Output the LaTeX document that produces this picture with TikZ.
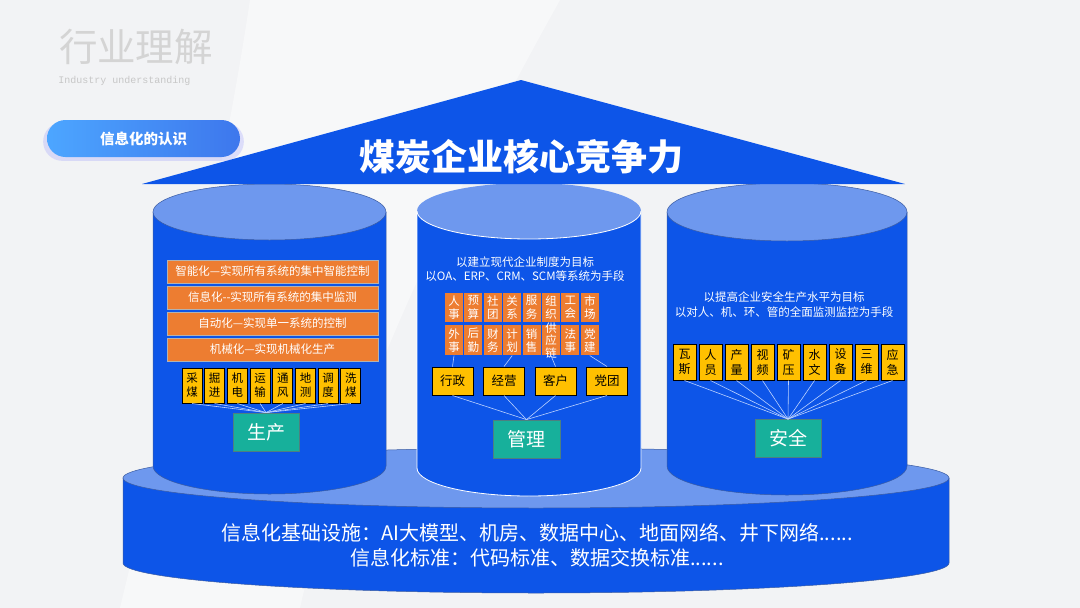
\documentclass[tikz,border=0pt]{standalone}
\usepackage{fontspec}
\setmainfont{Noto Sans CJK SC}
\newfontfamily\monofont{Liberation Mono}
\usetikzlibrary{positioning,shadows}

\definecolor{coalblue}{HTML}{0D55E8}
\definecolor{toplight}{HTML}{6E98EE}
\definecolor{rimblue}{HTML}{3A5BA2}
\definecolor{barorange}{HTML}{ED7D31}
\definecolor{tagyellow}{HTML}{FFC000}
\definecolor{tealbox}{HTML}{17B09B}
\definecolor{linkblue}{HTML}{BCD2FF}
\definecolor{pagebg}{HTML}{F2F3F5}

\begin{document}
\begin{tikzpicture}[x=1pt, y=-1pt,
  bar/.style={rectangle, fill=barorange, draw=gray!60, line width=0.5pt, minimum width=211pt, minimum height=23pt, inner sep=0pt, text=white, font=\fontsize{11.5}{12}\selectfont},
  tag/.style={rectangle, fill=tagyellow, draw=black, line width=1pt, inner sep=0pt, align=center},
  prodtag/.style={tag, minimum width=20pt, minimum height=35pt, font=\fontsize{11.5}{14}\selectfont},
  mgmttag/.style={tag, minimum width=41pt, minimum height=28pt, font=\fontsize{12.5}{13}\selectfont},
  safetag/.style={tag, minimum width=23pt, minimum height=36pt, font=\fontsize{12}{15}\selectfont},
  cell/.style={rectangle, fill=barorange, minimum width=18pt, inner sep=0pt, align=center, text=white, font=\fontsize{11.5}{13.5}\selectfont},
  group/.style={rectangle, fill=tealbox, draw=gray!60!teal, line width=0.8pt, minimum width=66pt, minimum height=38pt, text=white, font=\fontsize{19}{20}\selectfont},
  goal/.style={align=center, text=white, font=\fontsize{11.5}{14}\selectfont},
  link/.style={draw=linkblue, line width=0.6pt},
  pill/.style={rectangle, rounded corners=18.5pt, minimum width=193pt, minimum height=37pt, left color=blue!50!cyan!70!white, right color=coalblue!80!white, text=white, font=\bfseries\fontsize{14.5}{15}\selectfont, drop shadow={shadow xshift=0pt, shadow yshift=-3pt, shadow scale=1.04, opacity=0.18, fill=blue!60!white}}
]
\useasboundingbox (0,0) rectangle (1080,608);

% page
\fill[pagebg] (0,0) rectangle (1080,608);
\fill[white, opacity=0.45] (250,0) -- (560,0) .. controls (420,250) and (330,470) .. (300,608) -- (120,608) .. controls (170,400) and (220,200) .. cycle;

\node[text=black!17, font=\fontsize{38.5}{38.5}\selectfont] (pagetitle) at (136,47) {行业理解};
\node[text=black!22, font=\monofont\fontsize{10}{10}\selectfont] (pagesub) at (124.5,81) {Industry understanding};
\node[pill] (pill) at (143.5,138.5) {信息化的认识};

% base
\filldraw[fill=coalblue, draw=rimblue, line width=0.5pt] (123,478) -- (123,563) arc[start angle=180, end angle=360, x radius=413pt, y radius=30pt] -- (949,478) -- cycle;
\filldraw[fill=toplight, draw=rimblue, line width=0.5pt] (536,478) ellipse[x radius=413pt, y radius=30pt];

% three pillars
\filldraw[fill=coalblue, draw=rimblue, line width=0.5pt] (153,212) -- (153,466) arc[start angle=180, end angle=360, x radius=116.5pt, y radius=28pt] -- (386,212) -- cycle;
\filldraw[fill=toplight, draw=rimblue, line width=0.5pt] (269.5,212) ellipse[x radius=116.5pt, y radius=28pt];

\filldraw[fill=coalblue, draw=white, line width=0.8pt] (417,211) -- (417,468) arc[start angle=180, end angle=360, x radius=112pt, y radius=28pt] -- (641,211) -- cycle;
\fill[toplight] (529,211) ellipse[x radius=112pt, y radius=28pt];
\draw[white, line width=0.8pt] (417,211) arc[start angle=180, end angle=360, x radius=112pt, y radius=28pt];

\filldraw[fill=coalblue, draw=rimblue, line width=0.5pt] (667,212) -- (667,466) arc[start angle=180, end angle=360, x radius=120pt, y radius=29pt] -- (907,212) -- cycle;
\filldraw[fill=toplight, draw=rimblue, line width=0.5pt] (787,212) ellipse[x radius=120pt, y radius=29pt];

% roof
\fill[coalblue] (142,184) -- (521,80) -- (905,184) -- cycle;
\node[text=white, font=\bfseries\fontsize{36}{36}\selectfont] (rooftitle) at (521,157) {煤炭企业核心竞争力};

% production
\node[bar] (lv1) at (272.5,271.5) {智能化—实现所有系统的集中智能控制};
\node[bar, below=2.5pt of lv1] (lv2) {信息化{-}{-}实现所有系统的集中监测};
\node[bar, below=2.5pt of lv2] (lv3) {自动化—实现单一系统的控制};
\node[bar, below=2.5pt of lv3] (lv4) {机械化—实现机械化生产};

\node[prodtag] (p1) at (192,385.5) {采\\煤};
\node[prodtag, right=1.7pt of p1] (p2) {掘\\进};
\node[prodtag, right=1.7pt of p2] (p3) {机\\电};
\node[prodtag, right=1.7pt of p3] (p4) {运\\输};
\node[prodtag, right=1.7pt of p4] (p5) {通\\风};
\node[prodtag, right=1.7pt of p5] (p6) {地\\测};
\node[prodtag, right=1.7pt of p6] (p7) {调\\度};
\node[prodtag, right=1.7pt of p7] (p8) {洗\\煤};
\node[group] (prod) at (266,432) {生产};

\draw[link] (p1.south) -- (prod.north);
\draw[link] (p2.south) -- (prod.north);
\draw[link] (p3.south) -- (prod.north);
\draw[link] (p4.south) -- (prod.north);
\draw[link] (p5.south) -- (prod.north);
\draw[link] (p6.south) -- (prod.north);
\draw[link] (p7.south) -- (prod.north);
\draw[link] (p8.south) -- (prod.north);

% management
\node[goal] (mgmtgoal) at (525,269.5) {以建立现代企业制度为目标\\以OA、ERP、CRM、SCM等系统为手段};

\node[cell, minimum height=29pt] (ma1) at (454,307.5) {人\\事};
\node[cell, minimum height=29pt, right=1pt of ma1] (ma2) {预\\算};
\node[cell, minimum height=29pt, right=1pt of ma2] (ma3) {社\\团};
\node[cell, minimum height=29pt, right=1pt of ma3] (ma4) {关\\系};
\node[cell, minimum height=29pt, right=1pt of ma4] (ma5) {服\\务};
\node[cell, minimum height=29pt, right=1pt of ma5] (ma6) {组\\织};
\node[cell, minimum height=29pt, right=1pt of ma6] (ma7) {工\\会};
\node[cell, minimum height=29pt, right=1pt of ma7] (ma8) {市\\场};
\node[cell, minimum height=30pt, below=3pt of ma1] (mb1) {外\\事};
\node[cell, minimum height=30pt, below=3pt of ma2] (mb2) {后\\勤};
\node[cell, minimum height=30pt, below=3pt of ma3] (mb3) {财\\务};
\node[cell, minimum height=30pt, below=3pt of ma4] (mb4) {计\\划};
\node[cell, minimum height=30pt, below=3pt of ma5] (mb5) {销\\售};
\node[cell, minimum height=30pt, below=3pt of ma6, label={[align=center, text=white, font=\fontsize{11.5}{12.5}\selectfont]center:供\\应\\链}] (mb6) {};
\node[cell, minimum height=30pt, below=3pt of ma7] (mb7) {法\\事};
\node[cell, minimum height=30pt, below=3pt of ma8] (mb8) {党\\建};

\node[mgmttag] (xz) at (452.5,381) {行政};
\node[mgmttag, right=9.5pt of xz] (jy) {经营};
\node[mgmttag, right=9.5pt of jy] (kh) {客户};
\node[mgmttag, right=9.5pt of kh] (dt) {党团};
\node[group, minimum width=67pt] (mgmt) at (526.5,439) {管理};

\draw[link] (mb1.south) -- (xz.north);
\draw[link] (mb4.south) -- (jy.north);
\draw[link] (mb6.south) -- (kh.north);
\draw[link] (mb8.south) -- (dt.north);
\draw[link] (xz.south) -- (mgmt.north);
\draw[link] (jy.south) -- (mgmt.north);
\draw[link] (kh.south) -- (mgmt.north);
\draw[link] (dt.south) -- (mgmt.north);

% safety
\node[goal, font=\fontsize{11.5}{15}\selectfont] (safegoal) at (784,304.5) {以提高企业安全生产水平为目标\\以对人、机、环、管的全面监测监控为手段};

\node[safetag] (s1) at (684.5,362) {瓦\\斯};
\node[safetag, right=2pt of s1] (s2) {人\\员};
\node[safetag, right=2pt of s2] (s3) {产\\量};
\node[safetag, right=2pt of s3] (s4) {视\\频};
\node[safetag, right=2pt of s4] (s5) {矿\\压};
\node[safetag, right=2pt of s5] (s6) {水\\文};
\node[safetag, right=2pt of s6] (s7) {设\\备};
\node[safetag, right=2pt of s7] (s8) {三\\维};
\node[safetag, right=2pt of s8] (s9) {应\\急};
\node[group] (safe) at (788,438.5) {安全};

\draw[link] (s1.south) -- (safe.north);
\draw[link] (s2.south) -- (safe.north);
\draw[link] (s3.south) -- (safe.north);
\draw[link] (s4.south) -- (safe.north);
\draw[link] (s5.south) -- (safe.north);
\draw[link] (s6.south) -- (safe.north);
\draw[link] (s7.south) -- (safe.north);
\draw[link] (s8.south) -- (safe.north);
\draw[link] (s9.south) -- (safe.north);

% foundation text
\node[align=center, text=white, font=\fontsize{20}{25}\selectfont] (basetext) at (537,545.5) {信息化基础设施：AI大模型、机房、数据中心、地面网络、井下网络......\\信息化标准：代码标准、数据交换标准......};
\end{tikzpicture}
\end{document}
